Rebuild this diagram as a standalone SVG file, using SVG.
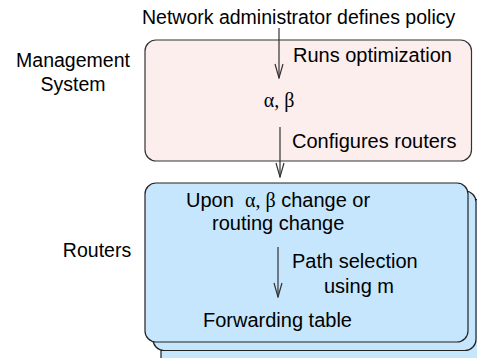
<svg xmlns="http://www.w3.org/2000/svg" width="477" height="358" viewBox="0 0 477 358">
<style>
.t{font-family:"Liberation Sans",Arial,sans-serif;font-size:20px;fill:#000}
.s{font-size:19.5px}
.g{font-family:"Liberation Serif","Times New Roman",serif;font-size:20px}
.pink{fill:#fdeeee;stroke:#333;stroke-width:1.2}
.blue{fill:#c5e6fc;stroke:#222;stroke-width:1.2}
.ln{stroke:#333;stroke-width:1.2;fill:none}
</style>
<defs>
<marker id="v" viewBox="0 0 16 10" refX="15" refY="5" markerWidth="16" markerHeight="10" markerUnits="userSpaceOnUse" orient="auto">
<path d="M1,1 L15,5 L1,9" fill="none" stroke="#333" stroke-width="1.2"/>
</marker>
</defs>
<rect width="477" height="358" fill="#fff"/>
<text class="t s" x="142" y="24">Network administrator defines policy</text>
<g id="mgmt">
<rect class="pink" x="145" y="40" width="326.5" height="121" rx="11"/>
<text class="t s" x="73" y="67" text-anchor="middle">Management</text>
<text class="t s" x="73" y="91" text-anchor="middle">System</text>
<text class="t" x="293" y="62">Runs optimization</text>
<text class="g" x="279" y="107" text-anchor="middle">α, β</text>
<text class="t" x="292" y="148">Configures routers</text>
</g>
<g id="routers">
<rect class="blue" x="161" y="199" width="323" height="170" rx="11"/>
<rect class="blue" x="153" y="191" width="323" height="159.5" rx="11"/>
<rect class="blue" x="145" y="183" width="323" height="159" rx="11"/>
<text class="t s" x="97" y="257" text-anchor="middle">Routers</text>
<text class="t" x="186" y="207" xml:space="preserve">Upon  <tspan class="g">α, β</tspan> change or</text>
<text class="t" x="212" y="230">routing change</text>
<text class="t" x="292" y="268">Path selection</text>
<text class="t" x="324" y="293">using m</text>
<text class="t" x="203" y="327">Forwarding table</text>
</g>
<g id="connectors">
<line class="ln" x1="279" y1="28" x2="279" y2="78" marker-end="url(#v)"/>
<line class="ln" x1="280" y1="127" x2="280" y2="177" marker-end="url(#v)"/>
<line class="ln" x1="278" y1="247" x2="278" y2="297" marker-end="url(#v)"/>
</g>
</svg>
